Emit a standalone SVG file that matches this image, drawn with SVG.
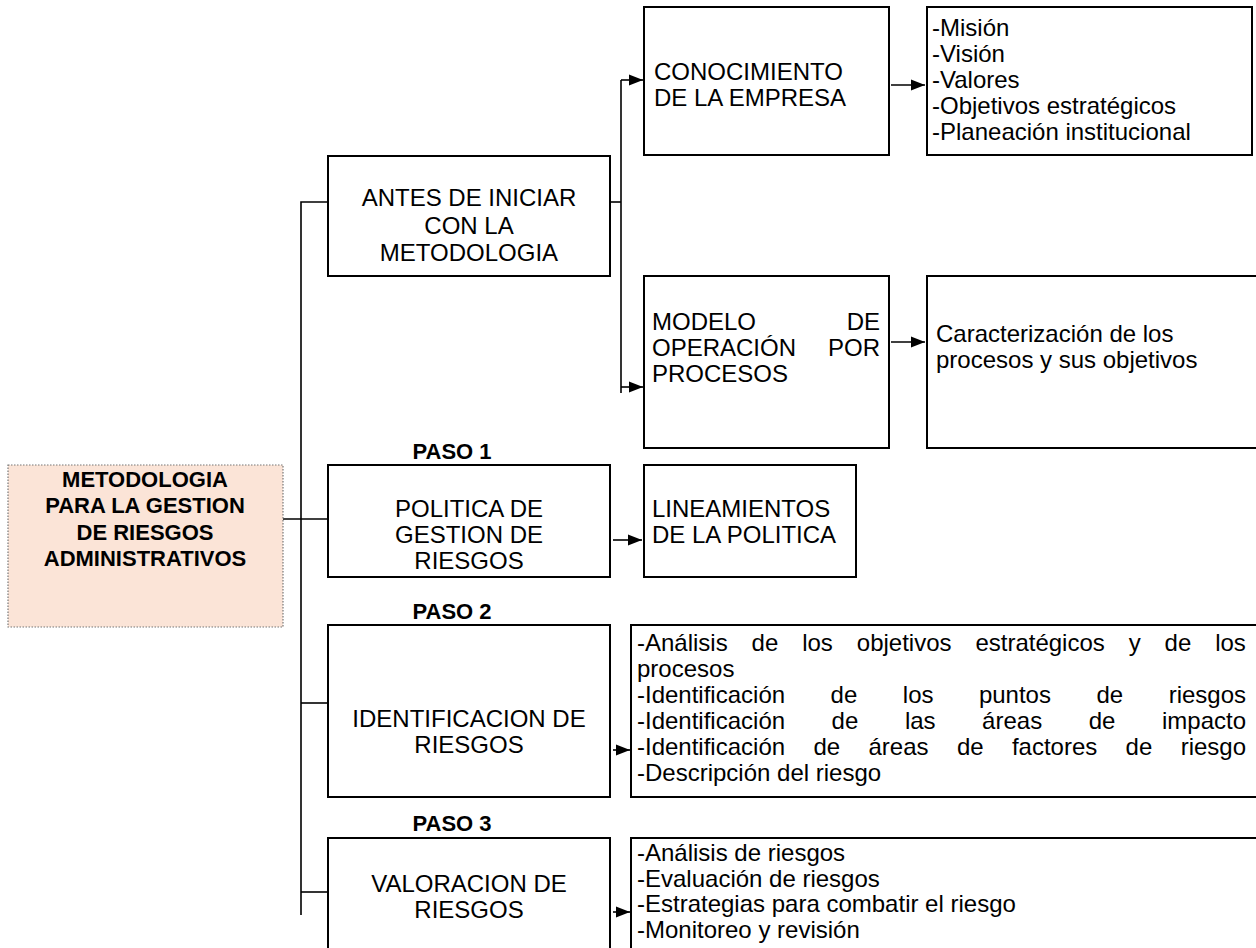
<svg xmlns="http://www.w3.org/2000/svg" width="1256" height="948" viewBox="0 0 1256 948">
<defs>
<style>
.box{fill:#fff;stroke:#000;stroke-width:2}
.t{font-family:"Liberation Sans",Arial,sans-serif;font-size:24px;fill:#000}
.c{text-anchor:middle}
.e{text-anchor:end}
.b{font-family:"Liberation Sans",Arial,sans-serif;font-weight:bold;font-size:22px;fill:#000;text-anchor:middle}
.ln{fill:none;stroke:#000;stroke-width:1.6}
</style>
<marker id="ah" viewBox="0 0 10 10" refX="10" refY="5" markerWidth="8" markerHeight="8" markerUnits="userSpaceOnUse" orient="auto">
<path d="M0,0 L10,5 L0,10 z" fill="#000"/>
</marker>
<marker id="ah2" viewBox="0 0 10 10" refX="10" refY="5" markerWidth="14" markerHeight="14" markerUnits="userSpaceOnUse" orient="auto">
<path d="M0,1 L10,5 L0,9 z" fill="#000"/>
</marker>
</defs>
<rect width="1256" height="948" fill="#fff"/>

<g id="connectors">
<polyline class="ln" points="328,202 301,202 301,915"/>
<line class="ln" x1="283" y1="519" x2="328" y2="519"/>
<line class="ln" x1="301" y1="703" x2="328" y2="703"/>
<line class="ln" x1="301" y1="892" x2="328" y2="892"/>
<line class="ln" x1="610" y1="202" x2="621" y2="202"/>
<line class="ln" x1="621" y1="80" x2="621" y2="393"/>
<line class="ln" x1="621" y1="80" x2="643" y2="80" marker-end="url(#ah2)"/>
<line class="ln" x1="621" y1="387" x2="643" y2="387" marker-end="url(#ah2)"/>
<line class="ln" x1="891" y1="85" x2="925" y2="85" marker-end="url(#ah2)"/>
<line class="ln" x1="891" y1="342" x2="925" y2="342" marker-end="url(#ah2)"/>
<line class="ln" x1="613" y1="540" x2="642" y2="540" marker-end="url(#ah2)"/>
<line class="ln" x1="613" y1="750" x2="630" y2="750" marker-end="url(#ah2)"/>
<line class="ln" x1="613" y1="912" x2="630" y2="912" marker-end="url(#ah2)"/>
</g>

<g id="main">
<rect x="8" y="465" width="275" height="162" fill="#fbe4d7" stroke="#777" stroke-width="1.2" stroke-dasharray="1.5,1.5"/>
<text class="b" x="145" y="487">METODOLOGIA</text>
<text class="b" x="145" y="513">PARA LA GESTION</text>
<text class="b" x="145" y="540">DE RIESGOS</text>
<text class="b" x="145" y="566">ADMINISTRATIVOS</text>
</g>

<g id="antes">
<rect class="box" x="328" y="156" width="282" height="120"/>
<text class="t c" x="469" y="206">ANTES DE INICIAR</text>
<text class="t c" x="469" y="233.5">CON LA</text>
<text class="t c" x="469" y="261">METODOLOGIA</text>
</g>

<g id="conocimiento">
<rect class="box" x="644" y="7" width="245" height="148"/>
<text class="t" x="654" y="80">CONOCIMIENTO</text>
<text class="t" x="654" y="106">DE LA EMPRESA</text>
</g>

<g id="mision">
<rect class="box" x="927" y="7" width="325" height="148"/>
<text class="t" x="932" y="36">-Misión</text>
<text class="t" x="932" y="62">-Visión</text>
<text class="t" x="932" y="88">-Valores</text>
<text class="t" x="932" y="114">-Objetivos estratégicos</text>
<text class="t" x="932" y="140">-Planeación institucional</text>
</g>

<g id="modelo">
<rect class="box" x="644" y="276" width="245" height="172"/>
<text class="t" x="652" y="330">MODELO</text>
<text class="t e" x="880" y="330">DE</text>
<text class="t" x="652" y="356">OPERACIÓN</text>
<text class="t e" x="880" y="356">POR</text>
<text class="t" x="652" y="382">PROCESOS</text>
</g>

<g id="caracterizacion">
<rect class="box" x="927" y="276" width="340" height="172"/>
<text class="t" x="936" y="342">Caracterización de los</text>
<text class="t" x="936" y="368">procesos y sus objetivos</text>
</g>

<g id="paso1">
<text class="b" x="452" y="459">PASO 1</text>
<rect class="box" x="328" y="465" width="282" height="112"/>
<text class="t c" x="469" y="517">POLITICA DE</text>
<text class="t c" x="469" y="543">GESTION DE</text>
<text class="t c" x="469" y="569">RIESGOS</text>
</g>

<g id="lineamientos">
<rect class="box" x="644" y="465" width="212" height="112"/>
<text class="t" x="652" y="517">LINEAMIENTOS</text>
<text class="t" x="652" y="543">DE LA POLITICA</text>
</g>

<g id="paso2">
<text class="b" x="452" y="619">PASO 2</text>
<rect class="box" x="328" y="625" width="282" height="172"/>
<text class="t c" x="469" y="727">IDENTIFICACION DE</text>
<text class="t c" x="469" y="753">RIESGOS</text>
</g>

<g id="identificacion-detalle">
<rect class="box" x="631" y="625" width="640" height="172"/>
<text class="t" y="651"><tspan x="637">-Análisis</tspan><tspan x="751.6">de</tspan><tspan x="802.2">los</tspan><tspan x="856.8">objetivos</tspan><tspan x="975.4">estratégicos</tspan><tspan x="1128.7">y</tspan><tspan x="1164.6">de</tspan><tspan x="1215.2">los</tspan></text>
<text class="t" x="637" y="677">procesos</text>
<text class="t" y="703"><tspan x="637">-Identificación</tspan><tspan x="830.6">de</tspan><tspan x="902.8">los</tspan><tspan x="978.9">puntos</tspan><tspan x="1096.5">de</tspan><tspan x="1168.7">riesgos</tspan></text>
<text class="t" y="729"><tspan x="637">-Identificación</tspan><tspan x="831.6">de</tspan><tspan x="904.9">las</tspan><tspan x="982.1">áreas</tspan><tspan x="1088.7">de</tspan><tspan x="1162">impacto</tspan></text>
<text class="t" y="755"><tspan x="637">-Identificación</tspan><tspan x="813.4">de</tspan><tspan x="868.5">áreas</tspan><tspan x="956.9">de</tspan><tspan x="1011.9">factores</tspan><tspan x="1125.6">de</tspan><tspan x="1180.7">riesgo</tspan></text>
<text class="t" x="637" y="781">-Descripción del riesgo</text>
</g>

<g id="paso3">
<text class="b" x="452" y="831">PASO 3</text>
<rect class="box" x="328" y="838" width="282" height="130"/>
<text class="t c" x="469" y="892">VALORACION DE</text>
<text class="t c" x="469" y="918">RIESGOS</text>
</g>

<g id="valoracion-detalle">
<rect class="box" x="631" y="838" width="640" height="130"/>
<text class="t" x="637" y="861">-Análisis de riesgos</text>
<text class="t" x="637" y="887">-Evaluación de riesgos</text>
<text class="t" x="637" y="912">-Estrategias para combatir el riesgo</text>
<text class="t" x="637" y="938">-Monitoreo y revisión</text>
</g>
</svg>
